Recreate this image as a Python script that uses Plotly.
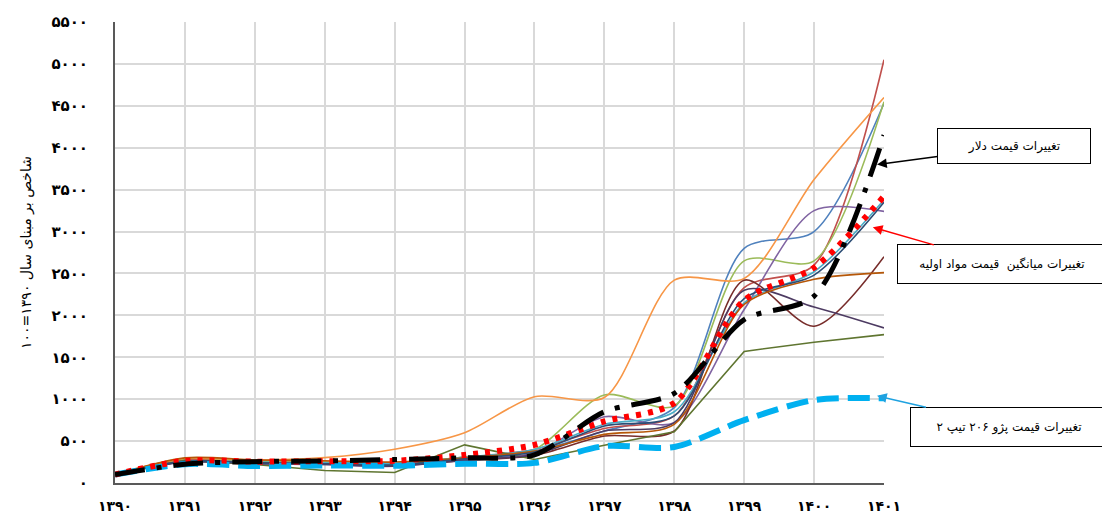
import plotly.graph_objects as go

years = [1390, 1391, 1392, 1393, 1394, 1395, 1396, 1397, 1398, 1399, 1400, 1401]
year_labels = ["۱۳۹۰", "۱۳۹۱", "۱۳۹۲", "۱۳۹۳", "۱۳۹۴", "۱۳۹۵", "۱۳۹۶", "۱۳۹۷", "۱۳۹۸", "۱۳۹۹", "۱۴۰۰", "۱۴۰۱"]
y_ticks = [0, 500, 1000, 1500, 2000, 2500, 3000, 3500, 4000, 4500, 5000, 5500]
y_labels = ["۰", "۵۰۰", "۱۰۰۰", "۱۵۰۰", "۲۰۰۰", "۲۵۰۰", "۳۰۰۰", "۳۵۰۰", "۴۰۰۰", "۴۵۰۰", "۵۰۰۰", "۵۵۰۰"]

# raw material price indices (thin lines)
mat_blue = [100, 270, 250, 240, 220, 300, 380, 620, 900, 2800, 3000, 4530]
mat_red = [100, 280, 260, 250, 230, 300, 400, 650, 800, 2330, 2600, 5050]
mat_green = [100, 290, 260, 250, 230, 310, 400, 1050, 920, 2650, 2650, 4550]
mat_purple = [100, 250, 230, 220, 200, 280, 360, 790, 720, 2070, 3250, 3240]
mat_aqua = [100, 260, 250, 240, 230, 310, 400, 700, 850, 2150, 2520, 3380]
mat_orange = [100, 295, 272, 303, 403, 600, 1030, 1020, 2420, 2440, 3620, 4600]
mat_darkred = [100, 260, 240, 230, 210, 270, 330, 560, 620, 2420, 1870, 2700]
mat_darkgreen = [100, 270, 220, 150, 125, 455, 280, 450, 610, 1570, 1680, 1770]
mat_darkpurple = [100, 250, 230, 220, 200, 270, 340, 620, 720, 2300, 2100, 1850]
mat_darkorange = [100, 300, 275, 265, 250, 300, 380, 580, 700, 2130, 2430, 2510]
mat_darkblue = [100, 260, 240, 230, 215, 290, 370, 680, 800, 2200, 2480, 3350]

avg_materials = [100, 265, 255, 260, 265, 335, 455, 735, 955, 2180, 2570, 3420]
dollar = [100, 225, 255, 263, 280, 300, 335, 850, 1070, 1950, 2230, 4150]
peugeot = [100, 225, 203, 210, 206, 230, 240, 440, 430, 750, 990, 1010]

thin = [
    ("ماده ۱", mat_blue, "#4F81BD", "spline"),
    ("ماده ۲", mat_red, "#C0504D", "spline"),
    ("ماده ۳", mat_green, "#9BBB59", "spline"),
    ("ماده ۴", mat_purple, "#8064A2", "spline"),
    ("ماده ۵", mat_aqua, "#4BACC6", "spline"),
    ("ماده ۶", mat_orange, "#F79646", "spline"),
    ("ماده ۷", mat_darkred, "#772C2A", "spline"),
    ("ماده ۸", mat_darkgreen, "#5F7530", "linear"),
    ("ماده ۹", mat_darkpurple, "#4D3B62", "spline"),
    ("ماده ۱۰", mat_darkorange, "#B65708", "spline"),
    ("ماده ۱۱", mat_darkblue, "#2C4D75", "spline"),
]

fig = go.Figure()
for name, vals, col, shp in thin:
    fig.add_trace(go.Scatter(x=years, y=vals, name=name, mode="lines",
                             line=dict(color=col, width=1.6, shape=shp, smoothing=0.8)))

fig.add_trace(go.Scatter(x=years, y=peugeot, name="تغییرات قیمت پژو ۲۰۶ تیپ ۲", mode="lines",
                         line=dict(color="#00B0F0", width=6, dash="22px,9px", shape="spline", smoothing=0.8)))
fig.add_trace(go.Scatter(x=years, y=avg_materials, name="تغییرات میانگین قیمت مواد اولیه", mode="lines",
                         line=dict(color="#FF0000", width=6, dash="5px,7px", shape="spline", smoothing=0.8)))
fig.add_trace(go.Scatter(x=years, y=dollar, name="تغییرات قیمت دلار", mode="lines",
                         line=dict(color="#000000", width=5, dash="30px,12px,5px,12px", shape="spline", smoothing=0.8)))

grid = "#D9D9D9"
fig.update_layout(
    width=1102, height=511,
    margin=dict(l=107, r=226, t=14, b=36),
    paper_bgcolor="white", plot_bgcolor="white",
    showlegend=False,
    font=dict(family="DejaVu Sans", color="#000000"),
    xaxis=dict(range=[1390, 1401], tickvals=years, ticktext=year_labels, automargin=False,
               showgrid=True, gridcolor=grid, gridwidth=2,
               showline=True, linecolor="#595959", linewidth=2,
               ticks="", ticklabelstandoff=9,
               tickfont=dict(size=14, family="DejaVu Sans", weight="bold"), zeroline=False),
    yaxis=dict(range=[0, 5500], tickvals=y_ticks, ticktext=y_labels, automargin=False,
               showgrid=True, gridcolor=grid, gridwidth=2,
               showline=True, linecolor="#595959", linewidth=2,
               ticks="", ticklabelstandoff=22,
               tickfont=dict(size=15, family="DejaVu Sans", weight="bold"), zeroline=False,
               title=dict(text="شاخص بر مبنای سال ۱۳۹۰=۱۰۰", standoff=16,
                          font=dict(size=14, family="DejaVu Sans"))),
)

ann_font = dict(size=12, family="DejaVu Sans", color="#000000")
fig.add_annotation(x=1400.9, y=3800, text="تغییرات قیمت دلار", ax=137, ay=-18,
                   showarrow=True, arrowhead=2, arrowsize=1.3, arrowwidth=1.5, arrowcolor="#000000",
                   bordercolor="#000000", borderwidth=1, bgcolor="white", width=150, height=32,
                   font=ann_font)
fig.add_annotation(x=1400.84, y=3050, text="تغییرات میانگین  قیمت مواد اولیه", ax=129, ay=37,
                   showarrow=True, arrowhead=2, arrowsize=1.3, arrowwidth=1.5, arrowcolor="#FF0000",
                   bordercolor="#000000", borderwidth=1, bgcolor="white", width=206, height=36,
                   font=ann_font)
fig.add_annotation(x=1400.9, y=1040, text="تغییرات قیمت پژو ۲۰۶ تیپ ۲", ax=132, ay=31,
                   showarrow=True, arrowhead=2, arrowsize=1.3, arrowwidth=1.5, arrowcolor="#1FA2E0",
                   bordercolor="#000000", borderwidth=1, bgcolor="white", width=194, height=36,
                   font=ann_font)

fig.write_html("out.html")
